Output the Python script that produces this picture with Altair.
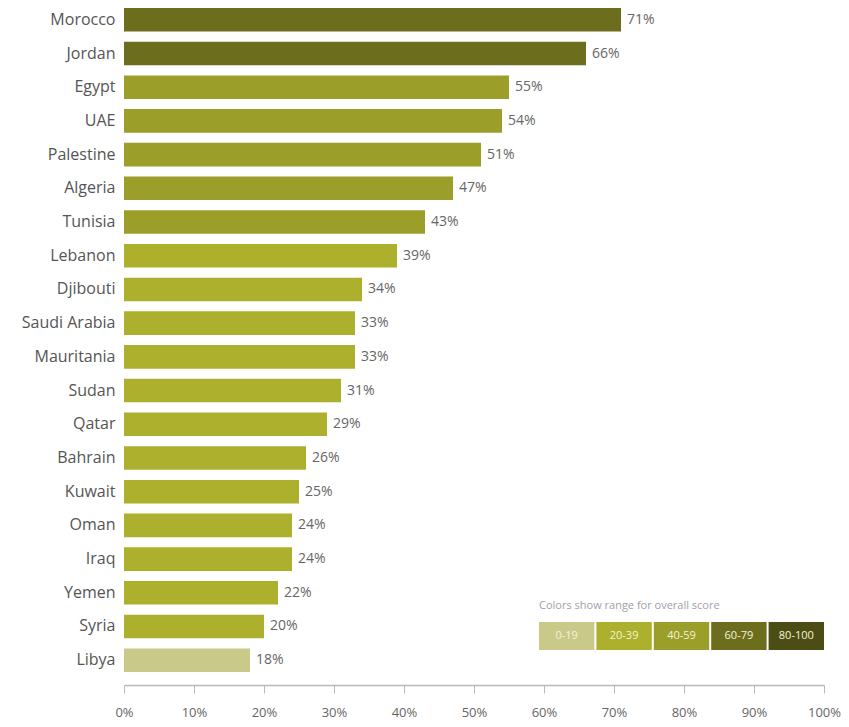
import altair as alt
import pandas as pd

countries = ["Morocco", "Jordan", "Egypt", "UAE", "Palestine", "Algeria", "Tunisia",
             "Lebanon", "Djibouti", "Saudi Arabia", "Mauritania", "Sudan", "Qatar",
             "Bahrain", "Kuwait", "Oman", "Iraq", "Yemen", "Syria", "Libya"]
values = [71, 66, 55, 54, 51, 47, 43, 39, 34, 33, 33, 31, 29, 26, 25, 24, 24, 22, 20, 18]
ranges = ["0-19", "20-39", "40-59", "60-79", "80-100"]
range_colors = ["#c9c98a", "#adb02c", "#9c9e2a", "#6c6e1d", "#4b4d14"]
x_ticks = [0, 10, 20, 30, 40, 50, 60, 70, 80, 90, 100]


def range_of(v):
    if v < 20:
        return "0-19"
    if v < 40:
        return "20-39"
    if v < 60:
        return "40-59"
    if v < 80:
        return "60-79"
    return "80-100"


df = pd.DataFrame({
    "country": countries,
    "value": values,
    "range": [range_of(v) for v in values],
    "label": [f"{v}%" for v in values],
})
leg = pd.DataFrame({"range": ranges, "color": range_colors})

FONT = "Open Sans"

base = alt.Chart(df).encode(
    x=alt.X("value:Q", scale=alt.Scale(domain=[0, 100], nice=False), title=None,
            axis=alt.Axis(values=x_ticks, labelExpr="datum.value + '%'", grid=False,
                          domainColor="#b8b8b8", domainWidth=1.5, tickColor="#b8b8b8",
                          tickSize=8, labelFontSize=13, labelColor="#666666",
                          labelPadding=13, offset=13, labelFont=FONT, labelFlush=False)),
    y=alt.Y("country:N", sort=countries, title=None,
            scale=alt.Scale(paddingInner=0.3, paddingOuter=0),
            axis=alt.Axis(domain=False, ticks=False, labelFontSize=16,
                          labelColor="#555555", labelPadding=9, labelFont=FONT)),
)

bars = base.mark_bar().encode(
    color=alt.Color("range:N", scale=alt.Scale(domain=ranges, range=range_colors), legend=None),
)
pct = base.mark_text(align="left", baseline="middle", dx=6, fontSize=14,
                     color="#666666", font=FONT).encode(text="label:N")

main = alt.layer(bars, pct)

leg_base = alt.Chart(leg).encode(
    x=alt.X("range:N", sort=ranges, axis=None, title=None,
            scale=alt.Scale(range=[415, 700], paddingInner=0.035, paddingOuter=0)),
)
leg_rect = leg_base.mark_rect().encode(
    y=alt.value(614), y2=alt.value(642),
    color=alt.Color("color:N", scale=None, legend=None),
)
leg_text = leg_base.mark_text(fontSize=11, color="#f3f3d8", baseline="middle",
                              font=FONT).encode(y=alt.value(628), text="range:N")
leg_title = alt.Chart(pd.DataFrame({"t": ["Colors show range for overall score"]})).mark_text(
    align="left", baseline="middle", fontSize=11, color="#a0a0a8", font=FONT
).encode(x=alt.value(415), y=alt.value(598), text="t:N")

legend = alt.layer(leg_rect, leg_text, leg_title)

chart = alt.layer(main, legend).resolve_scale(
    x="independent", color="independent"
).properties(
    width=700, height=664,
    autosize=alt.AutoSizeParams(type="none"),
    padding={"left": 116, "top": 0, "right": 17, "bottom": 50},
    background="white",
).configure_view(stroke=None)

chart.save("out.html", embed_options={"renderer": "svg", "actions": False})
